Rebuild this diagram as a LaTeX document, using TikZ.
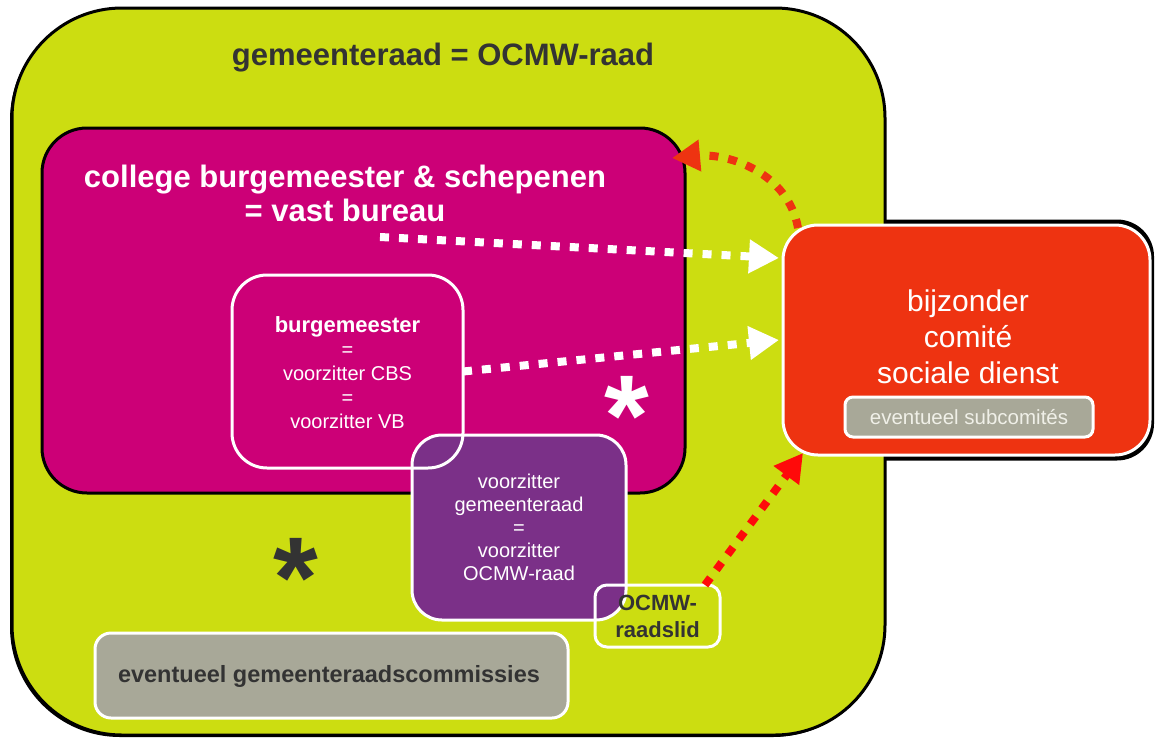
\documentclass[tikz,border=0pt]{standalone}
\usepackage{fontspec}
\setmainfont{Liberation Sans}
\usetikzlibrary{arrows.meta}
\definecolor{limeg}{RGB}{204,221,17}
\definecolor{magb}{RGB}{204,0,119}
\definecolor{purpb}{RGB}{123,48,136}
\definecolor{redb}{RGB}{238,51,17}
\definecolor{grayb}{RGB}{168,168,152}
\definecolor{darktxt}{RGB}{51,51,51}
\definecolor{lighttxt}{RGB}{240,240,232}
\definecolor{arrred}{RGB}{255,10,10}
\begin{document}
\begin{tikzpicture}[x=1pt,y=-1pt,
  rbox/.style={rectangle, inner sep=0pt, outer sep=0pt},
  blackbox/.style={rbox, draw=black, line width=3pt},
  whitebox/.style={rbox, draw=white, line width=3pt},
  txt/.style={inner sep=0pt, outer sep=0pt, align=center},
  wdots/.style={draw=white, line width=8pt, dash pattern=on 9pt off 10pt,
    -{Triangle[length=30pt,width=32pt]}},
  rdots/.style={line width=8pt, dash pattern=on 9pt off 10pt,
    -{Triangle[length=28pt,width=30pt]}},
  astx/.style={inner sep=0pt, outer sep=0pt, anchor=base,
    font=\fontsize{115}{115}\selectfont\bfseries}
]
\useasboundingbox (0,0) rectangle (1155,739);
% shadows
\node[rbox, fill=black, rounded corners=37pt, minimum width=371pt, minimum height=241pt] (redshadow) at (968.5,340) {};
\node[rbox, fill=black, rounded corners=110pt, minimum width=873pt, minimum height=727pt] (grshadow) at (446.5,373.5) {};
% outer green box
\node[blackbox, fill=limeg, rounded corners=110pt, minimum width=873pt, minimum height=727pt] (raad) at (448.5,371.5) {};
\node[txt, text=darktxt, font=\fontsize{31}{34}\selectfont\bfseries] (title) at (443,58) {gemeenteraad = OCMW-raad};
% college box
\node[blackbox, fill=magb, rounded corners=45pt, minimum width=643pt, minimum height=365pt] (college) at (363.5,310.5) {};
\node[txt, text=white, font=\fontsize{31}{34}\selectfont\bfseries] (collegetxt) at (345,193) {college burgemeester \& schepenen\\= vast bureau};
% purple box
\node[whitebox, fill=purpb, rounded corners=30pt, minimum width=214pt, minimum height=185pt] (vzgr) at (519,527.5) {};
\node[txt, text=white, font=\fontsize{20}{23}\selectfont] (vzgrtxt) at (519,527) {voorzitter\\gemeenteraad\\=\\voorzitter\\OCMW-raad};
% burgemeester box
\node[whitebox, rounded corners=35pt, minimum width=231pt, minimum height=193pt] (burg) at (347.5,371.5) {};
\node[txt, text=white, font=\fontsize{20}{24}\selectfont] (burgtxt) at (347.5,373) {{\bfseries\fontsize{22}{24}\selectfont burgemeester}\\=\\voorzitter CBS\\=\\voorzitter VB};
% OCMW-raadslid
\node[whitebox, rounded corners=12pt, minimum width=125pt, minimum height=62pt] (lid) at (657.5,616) {};
\node[txt, text=darktxt, font=\fontsize{22}{27}\selectfont\bfseries] (lidtxt) at (657.5,616) {OCMW-\\raadslid};
% commissies
\node[whitebox, fill=grayb, rounded corners=16pt, minimum width=473pt, minimum height=85pt] (comm) at (331.5,675.5) {};
\node[txt, text=darktxt, font=\fontsize{23.5}{26}\selectfont\bfseries] (commtxt) at (329,676) {eventueel gemeenteraadscommissies};
% red box
\node[whitebox, fill=redb, rounded corners=35pt, minimum width=367pt, minimum height=230pt] (bcsd) at (966.5,340) {};
\node[txt, text=white, font=\fontsize{30}{36}\selectfont] (bcsdtxt) at (968,337) {bijzonder\\comité\\sociale dienst};
\node[whitebox, fill=grayb, rounded corners=8pt, minimum width=248pt, minimum height=40pt] (sub) at (969,417) {};
\node[txt, text=lighttxt, font=\fontsize{20.5}{22}\selectfont] (subtxt) at (969,417) {eventueel subcomités};
% asterisks
\node[astx, text=white] (ast1) at (627,455) {*};
\node[astx, text=darktxt] (ast2) at (296,617) {*};
% connectors
\coordinate (cbstart) at (380,237);
\draw[wdots] (cbstart) -- ([xshift=-4pt,yshift=82pt]bcsd.west);
\draw[wdots] (burg.east) -- ([xshift=-4pt]bcsd.west);
\draw[rdots, draw=redb, -{Triangle[length=28pt,width=30pt,fill=redb]}] ([xshift=15pt,yshift=-3pt]bcsd.north west) to[out=100,in=5] ([xshift=-13pt,yshift=-30pt]college.north east);
\draw[rdots, draw=arrred] ([xshift=-15pt]lid.north east) -- ([xshift=20pt,yshift=2pt]bcsd.south west);
\end{tikzpicture}
\end{document}
